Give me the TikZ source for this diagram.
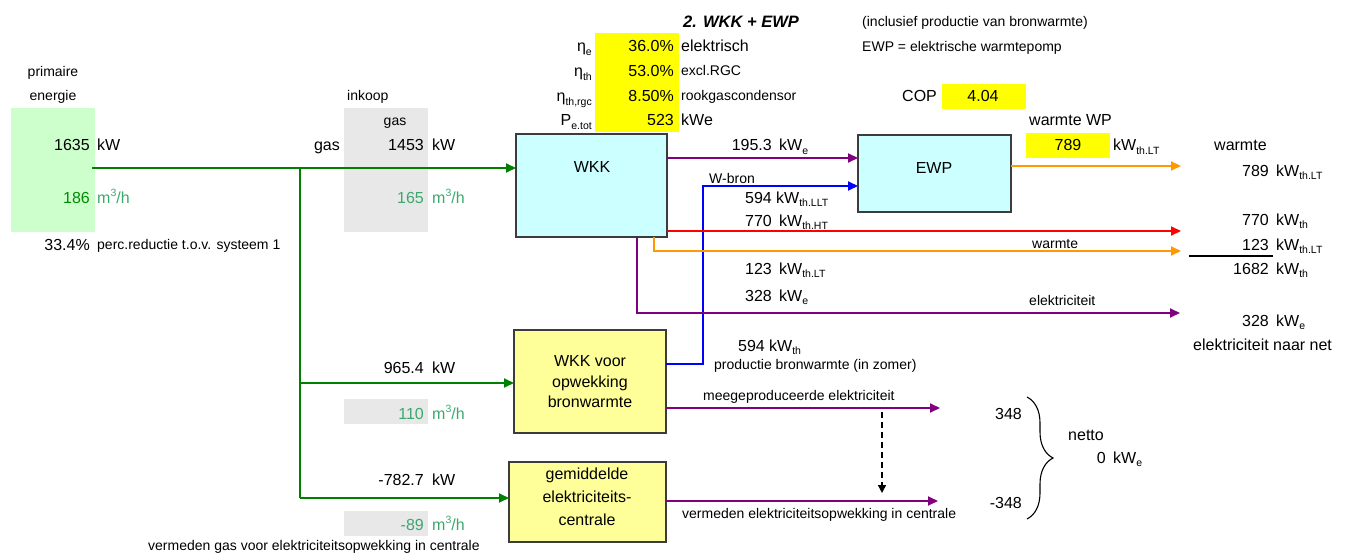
\documentclass[tikz,border=0pt]{standalone}
\usepackage{fontspec}
\setmainfont{Liberation Sans}
\usetikzlibrary{arrows.meta,decorations.pathreplacing}
\definecolor{ylw}{RGB}{255,255,0}
\definecolor{boxylw}{RGB}{255,255,153}
\definecolor{boxcyan}{RGB}{204,255,255}
\definecolor{lgreen}{RGB}{204,255,204}
\definecolor{lgray}{RGB}{232,232,232}
\definecolor{flowgreen}{RGB}{0,128,0}
\definecolor{txtgreen}{RGB}{0,140,0}
\definecolor{txtgreentwo}{RGB}{60,168,110}
\definecolor{flowpurple}{RGB}{128,0,128}
\definecolor{floworange}{RGB}{255,153,0}
\definecolor{flowred}{RGB}{255,0,0}
\definecolor{flowblue}{RGB}{0,0,255}
\definecolor{edgegray}{RGB}{60,60,60}
\newcommand\fmain{\fontsize{16}{19}\selectfont}
\newcommand\fsmall{\fontsize{14}{17}\selectfont}
\newcommand\lowtx[1]{\raisebox{-0.22em}{\fontsize{10.5}{12}\selectfont #1}}
\newcommand\uptx[1]{\raisebox{0.42em}{\fontsize{10.5}{12}\selectfont #1}}
\begin{document}
\begin{tikzpicture}[x=1pt,y=-1pt,
  rnum/.style={anchor=base east, inner sep=0pt, font=\fmain},
  lunit/.style={anchor=base west, inner sep=0pt, font=\fmain},
  lsmall/.style={anchor=base west, inner sep=0pt, font=\fsmall},
  csmall/.style={anchor=base, inner sep=0pt, font=\fsmall},
  cmain/.style={anchor=base, inner sep=0pt, font=\fmain},
  procbox/.style={draw=edgegray, line width=1.4pt, inner sep=0pt, outer sep=0pt, anchor=north west},
  flow/.style={line width=1.8pt, -{Triangle[length=10pt,width=9pt]}},
]
\useasboundingbox (0,0) rectangle (1356,556);

% background panels
\fill[ylw] (595,33) rectangle (679,132);
\fill[ylw] (942,84) rectangle (1026,109);
\fill[ylw] (1026,133) rectangle (1110,158);
\fill[lgreen] (11,108) rectangle (95,232);
\fill[lgray] (344,108) rectangle (428,232);
\fill[lgray] (344,399) rectangle (428,424);
\fill[lgray] (344,511) rectangle (428,536);

% top texts
\node[lunit, font=\fontsize{16.5}{19}\selectfont\bfseries\itshape] (title) at (683,28) {2. WKK + EWP};
\node[lsmall] (incl) at (862,27) {(inclusief productie van bronwarmte)};
\node[lsmall] (ewpdef) at (862,52) {EWP = elektrische warmtepomp};

\node[rnum] (etae) at (592,52) {η\lowtx{e}};
\node[rnum] (vale) at (674,52) {36.0\%};
\node[lunit] (une) at (681,52) {elektrisch};
\node[rnum] (etath) at (592,77) {η\lowtx{th}};
\node[rnum] (valth) at (674,77) {53.0\%};
\node[lsmall] (unth) at (681,76) {excl.RGC};
\node[rnum] (etargc) at (592,102) {η\lowtx{th,rgc}};
\node[rnum] (valrgc) at (674,102) {8.50\%};
\node[lsmall] (unrgc) at (681,101) {rookgascondensor};
\node[rnum] (pet) at (592,126) {P\lowtx{e.tot}};
\node[rnum] (valp) at (674,126) {523};
\node[lunit] (unp) at (681,126) {kWe};

\node[lunit] (cop) at (902,102) {COP};
\node[cmain] (copv) at (983,102) {4.04};
\node[lunit] (wwp) at (1029,126) {warmte WP};
\node[cmain] (wwpv) at (1068,151) {789};
\node[lunit] (wwpu) at (1113,151) {kW\lowtx{th.LT}};

% right column
\node[lunit] (warmteR) at (1214,151) {warmte};
\node[rnum] (r1) at (1269,176) {789};
\node[lunit] (r1u) at (1276,176) {kW\lowtx{th.LT}};
\node[rnum] (r2) at (1269,225) {770};
\node[lunit] (r2u) at (1276,225) {kW\lowtx{th}};
\node[rnum] (r3) at (1269,250) {123};
\node[lunit] (r3u) at (1276,250) {kW\lowtx{th.LT}};
\draw[line width=1.5pt] (1189,256) -- (1273,256);
\node[rnum] (r4) at (1269,274) {1682};
\node[lunit] (r4u) at (1276,274) {kW\lowtx{th}};
\node[rnum] (r5) at (1269,326) {328};
\node[lunit] (r5u) at (1276,326) {kW\lowtx{e}};
\node[lunit] (netR) at (1193,350) {elektriciteit naar net};

% left
\node[csmall] (prim) at (53,77) {primaire};
\node[csmall] (energ) at (53,101) {energie};
\node[lsmall] (inkoop) at (347,101) {inkoop};
\node[csmall] (gasT) at (395,126) {gas};
\node[rnum] (pe1) at (90,151) {1635};
\node[lunit] (pe1u) at (97,151) {kW};
\node[rnum] (gasL) at (340,151) {gas};
\node[rnum] (ig1) at (424,151) {1453};
\node[lunit] (ig1u) at (432,151) {kW};
\node[rnum, text=txtgreen] (pe2) at (90,203) {186};
\node[lunit, text=txtgreentwo] (pe2u) at (97,203) {m\uptx{3}/h};
\node[rnum, text=txtgreentwo] (ig2) at (424,203) {165};
\node[lunit, text=txtgreentwo] (ig2u) at (432,203) {m\uptx{3}/h};
\node[rnum] (perc) at (90,250) {33.4\%};
\node[lsmall] (percT) at (97,249) {perc.reductie t.o.v. systeem 1};

% bottom left
\node[rnum] (b1) at (424,373) {965.4};
\node[lunit] (b1u) at (432,373) {kW};
\node[rnum, text=txtgreentwo] (b2) at (424,419) {110};
\node[lunit, text=txtgreentwo] (b2u) at (432,419) {m\uptx{3}/h};
\node[rnum] (b3) at (424,485) {-782.7};
\node[lunit] (b3u) at (432,485) {kW};
\node[rnum, text=txtgreentwo] (b4) at (424,530) {-89};
\node[lunit, text=txtgreentwo] (b4u) at (432,530) {m\uptx{3}/h};
\node[lsmall] (vgas) at (148,550) {vermeden gas voor elektriciteitsopwekking in centrale};

% boxes
\node[procbox, fill=boxcyan, minimum width=151pt, minimum height=103pt] (wkk) at (516,134) {};
\node[cmain] (wkkT) at (592,172) {WKK};
\node[procbox, fill=boxcyan, minimum width=153pt, minimum height=77pt] (ewp) at (858,135) {};
\node[cmain] (ewpT) at (934,174) {EWP};
\node[procbox, fill=boxylw, minimum width=152pt, minimum height=103pt] (wkkv) at (514,330) {};
\node[font=\fontsize{16}{20.5}\selectfont, align=center, inner sep=0pt] (wkkvT) at (590,382) {WKK voor\\opwekking\\bronwarmte};
\node[procbox, fill=boxylw, minimum width=157pt, minimum height=80pt] (cent) at (509,462) {};
\node[font=\fontsize{16}{23}\selectfont, align=center, inner sep=0pt] (centT) at (587,497) {gemiddelde\\elektriciteits-\\centrale};

% middle labels
\node[rnum] (m1) at (772,151) {195.3};
\node[lunit] (m1u) at (779,151) {kW\lowtx{e}};
\node[lsmall] (wbron) at (709,183) {W-bron};
\node[rnum] (m2) at (772,203) {594};
\node[lunit] (m2u) at (776,203) {kW\lowtx{th.LLT}};
\node[rnum] (m3) at (772,226) {770};
\node[lunit] (m3u) at (779,226) {kW\lowtx{th.HT}};
\node[rnum] (m4) at (772,274) {123};
\node[lunit] (m4u) at (779,274) {kW\lowtx{th.LT}};
\node[rnum] (m5) at (772,301) {328};
\node[lunit] (m5u) at (779,301) {kW\lowtx{e}};
\node[rnum] (m6) at (765,351) {594};
\node[lunit] (m6u) at (769,351) {kW\lowtx{th}};
\node[lsmall] (prodb) at (714,369) {productie bronwarmte (in zomer)};
\node[lsmall] (warmteL) at (1032,248) {warmte};
\node[lsmall] (elekL) at (1029,305) {elektriciteit};
\node[lsmall] (meeg) at (703,400) {meegeproduceerde elektriciteit};
\node[lsmall] (verm) at (682,518) {vermeden elektriciteitsopwekking in centrale};
\node[rnum] (n1) at (1022,419) {348};
\node[rnum] (n2) at (1022,508) {-348};
\node[lunit] (netto) at (1068,440) {netto};
\node[rnum] (n0) at (1106,463) {0};
\node[lunit] (n0u) at (1113,463) {kW\lowtx{e}};

% coordinates
\coordinate (gstart) at (92,168);
\coordinate (gjunc) at (300,168);
\coordinate (gjunc2) at (300,383);
\coordinate (gjunc3) at (300,498);
\coordinate (p1) at (667,158);
\coordinate (bY1) at (703,364);
\coordinate (bY2) at (703,186);
\coordinate (rEnd) at (1181,231);
\coordinate (oTurn) at (654,251);
\coordinate (oEnd) at (1181,251);
\coordinate (pTurn) at (637,313);
\coordinate (pEnd) at (1180,313);
\coordinate (oEnd2) at (1181,166);
\coordinate (mEnd) at (940,408);
\coordinate (vEnd) at (938,501);
\coordinate (dTop) at (882,412);
\coordinate (dBot) at (882,493);
\coordinate (bTop) at (1027,397);
\coordinate (bBot) at (1027,519);

% connectors
\draw[flow, flowgreen] (gstart) -- (gstart -| wkk.west);
\draw[line width=1.8pt, flowgreen] (gjunc) -- (gjunc3);
\draw[flow, flowgreen] (gjunc2) -- (gjunc2 -| wkkv.west);
\draw[flow, flowgreen] (gjunc3) -- (gjunc3 -| cent.west);
\draw[flow, flowpurple] (p1 -| wkk.east) -- (p1 -| ewp.west);
\draw[flow, flowblue] (bY1 -| wkkv.east) -- (bY1) -- (bY2) -- (bY2 -| ewp.west);
\draw[flow, flowred] (rEnd -| wkk.east) -- (rEnd);
\draw[flow, floworange] (oTurn |- wkk.south) -- (oTurn) -- (oEnd);
\draw[flow, flowpurple] (pTurn |- wkk.south) -- (pTurn) -- (pEnd);
\draw[flow, floworange] (oEnd2 -| ewp.east) -- (oEnd2);
\draw[flow, flowpurple] (mEnd -| wkkv.east) -- (mEnd);
\draw[flow, flowpurple] (vEnd -| cent.east) -- (vEnd);
\draw[line width=1.4pt, dash pattern=on 6pt off 4pt, -{Triangle[length=8pt,width=8pt]}] (dTop) -- (dBot);
\draw[line width=1.1pt, decorate, decoration={brace, amplitude=26pt}] (bTop) -- (bBot);
\end{tikzpicture}
\end{document}
